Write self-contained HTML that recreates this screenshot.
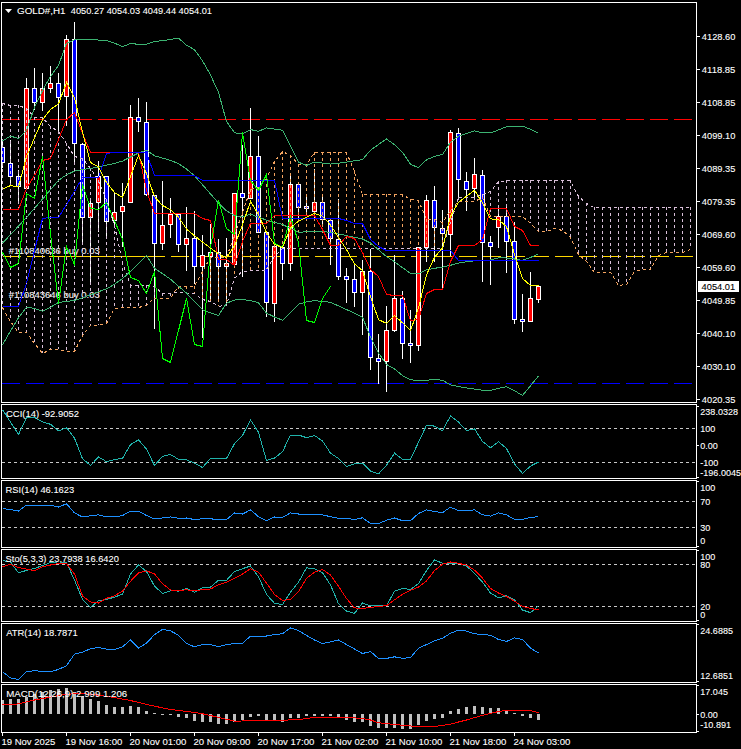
<!DOCTYPE html>
<html><head><meta charset="utf-8"><style>
html,body{margin:0;padding:0;background:#000;width:741px;height:749px;overflow:hidden}
svg{display:block}
text{font-family:"Liberation Sans",sans-serif}
</style></head><body>
<svg width="741" height="749" viewBox="0 0 741 749">
<rect x="0" y="0" width="741" height="749" fill="#000"/>
<defs>
<clipPath id="cm"><rect x="2" y="3" width="694" height="399"/></clipPath>
<clipPath id="c1"><rect x="2" y="405" width="694" height="73"/></clipPath>
<clipPath id="c2"><rect x="2" y="481" width="694" height="66"/></clipPath>
<clipPath id="c3"><rect x="2" y="550" width="694" height="71"/></clipPath>
<clipPath id="c4"><rect x="2" y="624" width="694" height="58"/></clipPath>
<clipPath id="c5"><rect x="2" y="685" width="694" height="47"/></clipPath>
</defs>
<g clip-path="url(#cm)">
<g shape-rendering="crispEdges">
<line x1="2" y1="119.5" x2="696" y2="119.5" stroke="#ff0000" stroke-dasharray="18 6"/>
<line x1="3" y1="256.5" x2="696" y2="256.5" stroke="#ffd700" stroke-dasharray="18 6"/>
<line x1="49" y1="256.5" x2="164" y2="256.5" stroke="#ffd700"/>
<line x1="2" y1="383.5" x2="696" y2="383.5" stroke="#0000ff" stroke-dasharray="18 6"/>
</g>
<text x="8.8" y="254.2" fill="#f4f4f4" font-family="Liberation Sans, sans-serif" font-size="9.7" textLength="91" lengthAdjust="spacingAndGlyphs" stroke="#f4f4f4" stroke-width="0.1">#110840636 buy 0.03</text>
<text x="8.8" y="298.2" fill="#f4f4f4" font-family="Liberation Sans, sans-serif" font-size="9.7" textLength="91" lengthAdjust="spacingAndGlyphs" stroke="#f4f4f4" stroke-width="0.1">#110843646 buy 0.03</text>
<g shape-rendering="crispEdges">
<rect x="2" y="142" width="1" height="26" fill="#fff"/>
<rect x="0" y="147" width="5" height="16" fill="#fff"/>
<rect x="1" y="148" width="3" height="14" fill="#0000ff"/>
<rect x="10" y="140" width="1" height="44" fill="#fff"/>
<rect x="8" y="163" width="5" height="14" fill="#fff"/>
<rect x="9" y="164" width="3" height="12" fill="#0000ff"/>
<rect x="18" y="170" width="1" height="33" fill="#fff"/>
<rect x="16" y="176" width="5" height="11" fill="#fff"/>
<rect x="17" y="177" width="3" height="9" fill="#0000ff"/>
<rect x="26" y="78" width="1" height="111" fill="#fff"/>
<rect x="24" y="88" width="5" height="101" fill="#fff"/>
<rect x="25" y="89" width="3" height="99" fill="#ff0000"/>
<rect x="34" y="68" width="1" height="42" fill="#fff"/>
<rect x="32" y="88" width="5" height="15" fill="#fff"/>
<rect x="33" y="89" width="3" height="13" fill="#0000ff"/>
<rect x="42" y="73" width="1" height="38" fill="#fff"/>
<rect x="40" y="88" width="5" height="15" fill="#fff"/>
<rect x="41" y="89" width="3" height="13" fill="#ff0000"/>
<rect x="50" y="66" width="1" height="27" fill="#fff"/>
<rect x="48" y="83" width="5" height="6" fill="#fff"/>
<rect x="49" y="84" width="3" height="4" fill="#ff0000"/>
<rect x="58" y="73" width="1" height="59" fill="#fff"/>
<rect x="56" y="83" width="5" height="15" fill="#fff"/>
<rect x="57" y="84" width="3" height="13" fill="#0000ff"/>
<rect x="66" y="35" width="1" height="91" fill="#fff"/>
<rect x="64" y="39" width="5" height="58" fill="#fff"/>
<rect x="65" y="40" width="3" height="56" fill="#ff0000"/>
<rect x="74" y="22" width="1" height="141" fill="#fff"/>
<rect x="72" y="39" width="5" height="105" fill="#fff"/>
<rect x="73" y="40" width="3" height="103" fill="#0000ff"/>
<rect x="82" y="143" width="1" height="101" fill="#fff"/>
<rect x="80" y="144" width="5" height="74" fill="#fff"/>
<rect x="81" y="145" width="3" height="72" fill="#0000ff"/>
<rect x="90" y="200" width="1" height="83" fill="#fff"/>
<rect x="88" y="203" width="5" height="15" fill="#fff"/>
<rect x="89" y="204" width="3" height="13" fill="#ff0000"/>
<rect x="98" y="161" width="1" height="71" fill="#fff"/>
<rect x="96" y="176" width="5" height="27" fill="#fff"/>
<rect x="97" y="177" width="3" height="25" fill="#ff0000"/>
<rect x="106" y="176" width="1" height="60" fill="#fff"/>
<rect x="104" y="176" width="5" height="46" fill="#fff"/>
<rect x="105" y="177" width="3" height="44" fill="#0000ff"/>
<rect x="114" y="193" width="1" height="33" fill="#fff"/>
<rect x="112" y="212" width="5" height="9" fill="#fff"/>
<rect x="113" y="213" width="3" height="7" fill="#ff0000"/>
<rect x="122" y="183" width="1" height="64" fill="#fff"/>
<rect x="120" y="206" width="5" height="6" fill="#fff"/>
<rect x="121" y="207" width="3" height="4" fill="#ff0000"/>
<rect x="130" y="105" width="1" height="98" fill="#fff"/>
<rect x="128" y="117" width="5" height="86" fill="#fff"/>
<rect x="129" y="118" width="3" height="84" fill="#ff0000"/>
<rect x="138" y="98" width="1" height="34" fill="#fff"/>
<rect x="136" y="117" width="5" height="5" fill="#fff"/>
<rect x="137" y="118" width="3" height="3" fill="#0000ff"/>
<rect x="146" y="102" width="1" height="94" fill="#fff"/>
<rect x="144" y="122" width="5" height="73" fill="#fff"/>
<rect x="145" y="123" width="3" height="71" fill="#0000ff"/>
<rect x="154" y="195" width="1" height="134" fill="#fff"/>
<rect x="152" y="195" width="5" height="49" fill="#fff"/>
<rect x="153" y="196" width="3" height="47" fill="#0000ff"/>
<rect x="162" y="181" width="1" height="69" fill="#fff"/>
<rect x="160" y="225" width="5" height="19" fill="#fff"/>
<rect x="161" y="226" width="3" height="17" fill="#ff0000"/>
<rect x="170" y="198" width="1" height="40" fill="#fff"/>
<rect x="168" y="214" width="5" height="11" fill="#fff"/>
<rect x="169" y="215" width="3" height="9" fill="#ff0000"/>
<rect x="178" y="214" width="1" height="38" fill="#fff"/>
<rect x="176" y="214" width="5" height="31" fill="#fff"/>
<rect x="177" y="215" width="3" height="29" fill="#0000ff"/>
<rect x="186" y="207" width="1" height="64" fill="#fff"/>
<rect x="184" y="238" width="5" height="7" fill="#fff"/>
<rect x="185" y="239" width="3" height="5" fill="#ff0000"/>
<rect x="194" y="211" width="1" height="73" fill="#fff"/>
<rect x="192" y="238" width="5" height="29" fill="#fff"/>
<rect x="193" y="239" width="3" height="27" fill="#0000ff"/>
<rect x="202" y="235" width="1" height="103" fill="#fff"/>
<rect x="200" y="255" width="5" height="12" fill="#fff"/>
<rect x="201" y="256" width="3" height="10" fill="#ff0000"/>
<rect x="210" y="224" width="1" height="76" fill="#fff"/>
<rect x="208" y="252" width="5" height="5" fill="#fff"/>
<rect x="209" y="253" width="3" height="3" fill="#ff0000"/>
<rect x="218" y="239" width="1" height="61" fill="#fff"/>
<rect x="216" y="252" width="5" height="15" fill="#fff"/>
<rect x="217" y="253" width="3" height="13" fill="#0000ff"/>
<rect x="226" y="238" width="1" height="65" fill="#fff"/>
<rect x="224" y="263" width="5" height="4" fill="#fff"/>
<rect x="225" y="264" width="3" height="2" fill="#ff0000"/>
<rect x="234" y="193" width="1" height="72" fill="#fff"/>
<rect x="232" y="193" width="5" height="72" fill="#fff"/>
<rect x="233" y="194" width="3" height="70" fill="#ff0000"/>
<rect x="242" y="145" width="1" height="132" fill="#fff"/>
<rect x="240" y="193" width="5" height="5" fill="#fff"/>
<rect x="241" y="194" width="3" height="3" fill="#0000ff"/>
<rect x="250" y="108" width="1" height="91" fill="#fff"/>
<rect x="248" y="156" width="5" height="43" fill="#fff"/>
<rect x="249" y="157" width="3" height="41" fill="#ff0000"/>
<rect x="258" y="136" width="1" height="97" fill="#fff"/>
<rect x="256" y="156" width="5" height="77" fill="#fff"/>
<rect x="257" y="157" width="3" height="75" fill="#0000ff"/>
<rect x="266" y="232" width="1" height="85" fill="#fff"/>
<rect x="264" y="232" width="5" height="71" fill="#fff"/>
<rect x="265" y="233" width="3" height="69" fill="#0000ff"/>
<rect x="274" y="246" width="1" height="76" fill="#fff"/>
<rect x="272" y="246" width="5" height="58" fill="#fff"/>
<rect x="273" y="247" width="3" height="56" fill="#ff0000"/>
<rect x="282" y="247" width="1" height="33" fill="#fff"/>
<rect x="280" y="247" width="5" height="17" fill="#fff"/>
<rect x="281" y="248" width="3" height="15" fill="#0000ff"/>
<rect x="290" y="174" width="1" height="97" fill="#fff"/>
<rect x="288" y="184" width="5" height="80" fill="#fff"/>
<rect x="289" y="185" width="3" height="78" fill="#ff0000"/>
<rect x="298" y="184" width="1" height="34" fill="#fff"/>
<rect x="296" y="184" width="5" height="24" fill="#fff"/>
<rect x="297" y="185" width="3" height="22" fill="#0000ff"/>
<rect x="306" y="196" width="1" height="19" fill="#fff"/>
<rect x="304" y="206" width="5" height="3" fill="#fff"/>
<rect x="305" y="207" width="3" height="1" fill="#0000ff"/>
<rect x="314" y="169" width="1" height="50" fill="#fff"/>
<rect x="312" y="202" width="5" height="10" fill="#fff"/>
<rect x="313" y="203" width="3" height="8" fill="#ff0000"/>
<rect x="322" y="196" width="1" height="31" fill="#fff"/>
<rect x="320" y="202" width="5" height="18" fill="#fff"/>
<rect x="321" y="203" width="3" height="16" fill="#0000ff"/>
<rect x="330" y="220" width="1" height="45" fill="#fff"/>
<rect x="328" y="220" width="5" height="19" fill="#fff"/>
<rect x="329" y="221" width="3" height="17" fill="#0000ff"/>
<rect x="338" y="199" width="1" height="81" fill="#fff"/>
<rect x="336" y="239" width="5" height="38" fill="#fff"/>
<rect x="337" y="240" width="3" height="36" fill="#0000ff"/>
<rect x="346" y="268" width="1" height="35" fill="#fff"/>
<rect x="344" y="276" width="5" height="4" fill="#fff"/>
<rect x="345" y="277" width="3" height="2" fill="#0000ff"/>
<rect x="354" y="265" width="1" height="42" fill="#fff"/>
<rect x="352" y="279" width="5" height="14" fill="#fff"/>
<rect x="353" y="280" width="3" height="12" fill="#0000ff"/>
<rect x="362" y="260" width="1" height="75" fill="#fff"/>
<rect x="360" y="271" width="5" height="22" fill="#fff"/>
<rect x="361" y="272" width="3" height="20" fill="#ff0000"/>
<rect x="370" y="249" width="1" height="121" fill="#fff"/>
<rect x="368" y="271" width="5" height="87" fill="#fff"/>
<rect x="369" y="272" width="3" height="85" fill="#0000ff"/>
<rect x="378" y="334" width="1" height="50" fill="#fff"/>
<rect x="376" y="358" width="5" height="4" fill="#fff"/>
<rect x="377" y="359" width="3" height="2" fill="#0000ff"/>
<rect x="386" y="306" width="1" height="86" fill="#fff"/>
<rect x="384" y="330" width="5" height="32" fill="#fff"/>
<rect x="385" y="331" width="3" height="30" fill="#ff0000"/>
<rect x="394" y="255" width="1" height="77" fill="#fff"/>
<rect x="392" y="298" width="5" height="33" fill="#fff"/>
<rect x="393" y="299" width="3" height="31" fill="#ff0000"/>
<rect x="402" y="291" width="1" height="68" fill="#fff"/>
<rect x="400" y="298" width="5" height="46" fill="#fff"/>
<rect x="401" y="299" width="3" height="44" fill="#0000ff"/>
<rect x="410" y="310" width="1" height="53" fill="#fff"/>
<rect x="408" y="343" width="5" height="3" fill="#fff"/>
<rect x="409" y="344" width="3" height="1" fill="#0000ff"/>
<rect x="418" y="247" width="1" height="104" fill="#fff"/>
<rect x="416" y="247" width="5" height="99" fill="#fff"/>
<rect x="417" y="248" width="3" height="97" fill="#ff0000"/>
<rect x="426" y="195" width="1" height="67" fill="#fff"/>
<rect x="424" y="200" width="5" height="48" fill="#fff"/>
<rect x="425" y="201" width="3" height="46" fill="#ff0000"/>
<rect x="434" y="186" width="1" height="76" fill="#fff"/>
<rect x="432" y="200" width="5" height="28" fill="#fff"/>
<rect x="433" y="201" width="3" height="26" fill="#0000ff"/>
<rect x="442" y="210" width="1" height="78" fill="#fff"/>
<rect x="440" y="228" width="5" height="6" fill="#fff"/>
<rect x="441" y="229" width="3" height="4" fill="#0000ff"/>
<rect x="450" y="130" width="1" height="126" fill="#fff"/>
<rect x="448" y="132" width="5" height="103" fill="#fff"/>
<rect x="449" y="133" width="3" height="101" fill="#ff0000"/>
<rect x="458" y="128" width="1" height="72" fill="#fff"/>
<rect x="456" y="133" width="5" height="47" fill="#fff"/>
<rect x="457" y="134" width="3" height="45" fill="#0000ff"/>
<rect x="466" y="172" width="1" height="39" fill="#fff"/>
<rect x="464" y="181" width="5" height="9" fill="#fff"/>
<rect x="465" y="182" width="3" height="7" fill="#0000ff"/>
<rect x="474" y="158" width="1" height="42" fill="#fff"/>
<rect x="472" y="174" width="5" height="15" fill="#fff"/>
<rect x="473" y="175" width="3" height="13" fill="#ff0000"/>
<rect x="482" y="170" width="1" height="112" fill="#fff"/>
<rect x="480" y="175" width="5" height="68" fill="#fff"/>
<rect x="481" y="176" width="3" height="66" fill="#0000ff"/>
<rect x="490" y="236" width="1" height="49" fill="#fff"/>
<rect x="488" y="242" width="5" height="5" fill="#fff"/>
<rect x="489" y="243" width="3" height="3" fill="#0000ff"/>
<rect x="498" y="205" width="1" height="43" fill="#fff"/>
<rect x="496" y="216" width="5" height="12" fill="#fff"/>
<rect x="497" y="217" width="3" height="10" fill="#ff0000"/>
<rect x="506" y="206" width="1" height="67" fill="#fff"/>
<rect x="504" y="216" width="5" height="26" fill="#fff"/>
<rect x="505" y="217" width="3" height="24" fill="#0000ff"/>
<rect x="514" y="222" width="1" height="102" fill="#fff"/>
<rect x="512" y="241" width="5" height="79" fill="#fff"/>
<rect x="513" y="242" width="3" height="77" fill="#0000ff"/>
<rect x="522" y="294" width="1" height="38" fill="#fff"/>
<rect x="520" y="319" width="5" height="3" fill="#fff"/>
<rect x="521" y="320" width="3" height="1" fill="#0000ff"/>
<rect x="530" y="272" width="1" height="50" fill="#fff"/>
<rect x="528" y="298" width="5" height="24" fill="#fff"/>
<rect x="529" y="299" width="3" height="22" fill="#ff0000"/>
<rect x="538" y="286" width="1" height="17" fill="#fff"/>
<rect x="536" y="286" width="5" height="14" fill="#fff"/>
<rect x="537" y="287" width="3" height="12" fill="#ff0000"/>
</g>
<g shape-rendering="crispEdges">
<line x1="2.5" y1="103" x2="2.5" y2="307" stroke="#d8bfd8" stroke-dasharray="3 3"/>
<line x1="10.5" y1="105" x2="10.5" y2="321" stroke="#d8bfd8" stroke-dasharray="3 3"/>
<line x1="18.5" y1="105" x2="18.5" y2="332" stroke="#d8bfd8" stroke-dasharray="3 3"/>
<line x1="26.5" y1="108" x2="26.5" y2="332" stroke="#d8bfd8" stroke-dasharray="3 3"/>
<line x1="34.5" y1="117" x2="34.5" y2="343" stroke="#d8bfd8" stroke-dasharray="3 3"/>
<line x1="42.5" y1="117" x2="42.5" y2="353" stroke="#d8bfd8" stroke-dasharray="3 3"/>
<line x1="50.5" y1="126" x2="50.5" y2="349" stroke="#d8bfd8" stroke-dasharray="3 3"/>
<line x1="58.5" y1="131" x2="58.5" y2="349" stroke="#d8bfd8" stroke-dasharray="3 3"/>
<line x1="66.5" y1="143" x2="66.5" y2="351" stroke="#d8bfd8" stroke-dasharray="3 3"/>
<line x1="74.5" y1="156" x2="74.5" y2="351" stroke="#d8bfd8" stroke-dasharray="3 3"/>
<line x1="82.5" y1="158" x2="82.5" y2="335" stroke="#d8bfd8" stroke-dasharray="3 3"/>
<line x1="90.5" y1="168" x2="90.5" y2="325" stroke="#d8bfd8" stroke-dasharray="3 3"/>
<line x1="98.5" y1="180" x2="98.5" y2="325" stroke="#d8bfd8" stroke-dasharray="3 3"/>
<line x1="106.5" y1="200" x2="106.5" y2="323" stroke="#d8bfd8" stroke-dasharray="3 3"/>
<line x1="114.5" y1="225" x2="114.5" y2="308" stroke="#d8bfd8" stroke-dasharray="3 3"/>
<line x1="122.5" y1="262" x2="122.5" y2="307" stroke="#d8bfd8" stroke-dasharray="3 3"/>
<line x1="130.5" y1="285" x2="130.5" y2="307" stroke="#d8bfd8" stroke-dasharray="3 3"/>
<line x1="138.5" y1="285" x2="138.5" y2="307" stroke="#d8bfd8" stroke-dasharray="3 3"/>
<line x1="146.5" y1="285" x2="146.5" y2="305" stroke="#d8bfd8" stroke-dasharray="3 3"/>
<line x1="154.5" y1="286" x2="154.5" y2="298" stroke="#d8bfd8" stroke-dasharray="3 3"/>
<line x1="162.5" y1="293" x2="162.5" y2="298" stroke="#d8bfd8" stroke-dasharray="3 3"/>
<line x1="170.5" y1="293" x2="170.5" y2="298" stroke="#d8bfd8" stroke-dasharray="3 3"/>
<line x1="178.5" y1="286" x2="178.5" y2="292" stroke="#f4a460" stroke-dasharray="3 3"/>
<line x1="186.5" y1="286" x2="186.5" y2="292" stroke="#f4a460" stroke-dasharray="3 3"/>
<line x1="194.5" y1="286" x2="194.5" y2="293" stroke="#f4a460" stroke-dasharray="3 3"/>
<line x1="202.5" y1="271" x2="202.5" y2="299" stroke="#f4a460" stroke-dasharray="3 3"/>
<line x1="210.5" y1="257" x2="210.5" y2="301" stroke="#f4a460" stroke-dasharray="3 3"/>
<line x1="218.5" y1="257" x2="218.5" y2="306" stroke="#f4a460" stroke-dasharray="3 3"/>
<line x1="226.5" y1="257" x2="226.5" y2="305" stroke="#f4a460" stroke-dasharray="3 3"/>
<line x1="234.5" y1="235" x2="234.5" y2="278" stroke="#f4a460" stroke-dasharray="3 3"/>
<line x1="242.5" y1="212" x2="242.5" y2="271" stroke="#f4a460" stroke-dasharray="3 3"/>
<line x1="250.5" y1="189" x2="250.5" y2="270" stroke="#f4a460" stroke-dasharray="3 3"/>
<line x1="258.5" y1="187" x2="258.5" y2="270" stroke="#f4a460" stroke-dasharray="3 3"/>
<line x1="266.5" y1="178" x2="266.5" y2="269" stroke="#f4a460" stroke-dasharray="3 3"/>
<line x1="274.5" y1="161" x2="274.5" y2="256" stroke="#f4a460" stroke-dasharray="3 3"/>
<line x1="282.5" y1="151" x2="282.5" y2="248" stroke="#f4a460" stroke-dasharray="3 3"/>
<line x1="290.5" y1="155" x2="290.5" y2="248" stroke="#f4a460" stroke-dasharray="3 3"/>
<line x1="298.5" y1="164" x2="298.5" y2="248" stroke="#f4a460" stroke-dasharray="3 3"/>
<line x1="306.5" y1="164" x2="306.5" y2="248" stroke="#f4a460" stroke-dasharray="3 3"/>
<line x1="314.5" y1="152" x2="314.5" y2="248" stroke="#f4a460" stroke-dasharray="3 3"/>
<line x1="322.5" y1="152" x2="322.5" y2="248" stroke="#f4a460" stroke-dasharray="3 3"/>
<line x1="330.5" y1="152" x2="330.5" y2="248" stroke="#f4a460" stroke-dasharray="3 3"/>
<line x1="338.5" y1="152" x2="338.5" y2="248" stroke="#f4a460" stroke-dasharray="3 3"/>
<line x1="346.5" y1="152" x2="346.5" y2="248" stroke="#f4a460" stroke-dasharray="3 3"/>
<line x1="354.5" y1="171" x2="354.5" y2="248" stroke="#f4a460" stroke-dasharray="3 3"/>
<line x1="362.5" y1="194" x2="362.5" y2="248" stroke="#f4a460" stroke-dasharray="3 3"/>
<line x1="370.5" y1="194" x2="370.5" y2="248" stroke="#f4a460" stroke-dasharray="3 3"/>
<line x1="378.5" y1="194" x2="378.5" y2="248" stroke="#f4a460" stroke-dasharray="3 3"/>
<line x1="386.5" y1="194" x2="386.5" y2="248" stroke="#f4a460" stroke-dasharray="3 3"/>
<line x1="394.5" y1="194" x2="394.5" y2="248" stroke="#f4a460" stroke-dasharray="3 3"/>
<line x1="402.5" y1="194" x2="402.5" y2="248" stroke="#f4a460" stroke-dasharray="3 3"/>
<line x1="410.5" y1="199" x2="410.5" y2="248" stroke="#f4a460" stroke-dasharray="3 3"/>
<line x1="418.5" y1="200" x2="418.5" y2="248" stroke="#f4a460" stroke-dasharray="3 3"/>
<line x1="426.5" y1="219" x2="426.5" y2="248" stroke="#f4a460" stroke-dasharray="3 3"/>
<line x1="434.5" y1="219" x2="434.5" y2="248" stroke="#f4a460" stroke-dasharray="3 3"/>
<line x1="442.5" y1="222" x2="442.5" y2="248" stroke="#f4a460" stroke-dasharray="3 3"/>
<line x1="450.5" y1="210" x2="450.5" y2="222" stroke="#f4a460" stroke-dasharray="3 3"/>
<line x1="458.5" y1="197" x2="458.5" y2="201" stroke="#d8bfd8" stroke-dasharray="3 3"/>
<line x1="466.5" y1="197" x2="466.5" y2="201" stroke="#d8bfd8" stroke-dasharray="3 3"/>
<line x1="474.5" y1="197" x2="474.5" y2="201" stroke="#d8bfd8" stroke-dasharray="3 3"/>
<line x1="482.5" y1="194" x2="482.5" y2="197" stroke="#d8bfd8" stroke-dasharray="3 3"/>
<line x1="490.5" y1="191" x2="490.5" y2="216" stroke="#d8bfd8" stroke-dasharray="3 3"/>
<line x1="498.5" y1="181" x2="498.5" y2="216" stroke="#d8bfd8" stroke-dasharray="3 3"/>
<line x1="506.5" y1="180" x2="506.5" y2="216" stroke="#d8bfd8" stroke-dasharray="3 3"/>
<line x1="514.5" y1="180" x2="514.5" y2="216" stroke="#d8bfd8" stroke-dasharray="3 3"/>
<line x1="522.5" y1="180" x2="522.5" y2="216" stroke="#d8bfd8" stroke-dasharray="3 3"/>
<line x1="530.5" y1="180" x2="530.5" y2="223" stroke="#d8bfd8" stroke-dasharray="3 3"/>
<line x1="538.5" y1="180" x2="538.5" y2="231" stroke="#d8bfd8" stroke-dasharray="3 3"/>
<line x1="546.5" y1="180" x2="546.5" y2="231" stroke="#d8bfd8" stroke-dasharray="3 3"/>
<line x1="554.5" y1="180" x2="554.5" y2="228" stroke="#d8bfd8" stroke-dasharray="3 3"/>
<line x1="562.5" y1="180" x2="562.5" y2="230" stroke="#d8bfd8" stroke-dasharray="3 3"/>
<line x1="570.5" y1="180" x2="570.5" y2="237" stroke="#d8bfd8" stroke-dasharray="3 3"/>
<line x1="578.5" y1="196" x2="578.5" y2="254" stroke="#d8bfd8" stroke-dasharray="3 3"/>
<line x1="586.5" y1="203" x2="586.5" y2="261" stroke="#d8bfd8" stroke-dasharray="3 3"/>
<line x1="594.5" y1="207" x2="594.5" y2="272" stroke="#d8bfd8" stroke-dasharray="3 3"/>
<line x1="602.5" y1="207" x2="602.5" y2="272" stroke="#d8bfd8" stroke-dasharray="3 3"/>
<line x1="610.5" y1="207" x2="610.5" y2="272" stroke="#d8bfd8" stroke-dasharray="3 3"/>
<line x1="618.5" y1="207" x2="618.5" y2="285" stroke="#d8bfd8" stroke-dasharray="3 3"/>
<line x1="626.5" y1="207" x2="626.5" y2="284" stroke="#d8bfd8" stroke-dasharray="3 3"/>
<line x1="634.5" y1="207" x2="634.5" y2="271" stroke="#d8bfd8" stroke-dasharray="3 3"/>
<line x1="642.5" y1="207" x2="642.5" y2="269" stroke="#d8bfd8" stroke-dasharray="3 3"/>
<line x1="650.5" y1="207" x2="650.5" y2="269" stroke="#d8bfd8" stroke-dasharray="3 3"/>
<line x1="658.5" y1="207" x2="658.5" y2="255" stroke="#d8bfd8" stroke-dasharray="3 3"/>
<line x1="666.5" y1="207" x2="666.5" y2="252" stroke="#d8bfd8" stroke-dasharray="3 3"/>
<line x1="674.5" y1="207" x2="674.5" y2="252" stroke="#d8bfd8" stroke-dasharray="3 3"/>
<line x1="682.5" y1="207" x2="682.5" y2="252" stroke="#d8bfd8" stroke-dasharray="3 3"/>
<line x1="690.5" y1="207" x2="690.5" y2="249" stroke="#d8bfd8" stroke-dasharray="3 3"/>
</g>
<polyline points="2.5,307.5 10.5,321.5 18.5,332.5 26.5,332.5 34.5,343.5 42.5,353.5 50.5,349.5 58.5,349.5 66.5,351.5 74.5,351.5 82.5,335.5 90.5,325.5 98.5,325.5 106.5,323.5 114.5,308.5 122.5,307.5 130.5,307.5 138.5,307.5 146.5,305.5 154.5,298 162.5,298 170.5,298 178.5,286.1 186.5,286.1 194.5,286.1 202.5,271.5 210.5,257.5 218.5,257.5 226.5,257.5 234.5,235.5 242.5,212.5 250.5,189.5 258.5,187.5 266.5,178.5 274.5,161.5 282.5,151.5 290.5,155.5 298.5,164.5 306.5,164.5 314.5,152.5 322.5,152.5 330.5,152.5 338.5,152.5 346.5,152.5 354.5,171.5 362.5,194.5 370.5,194.5 378.5,194.5 386.5,194.5 394.5,194.5 402.5,194.5 410.5,199.5 418.5,200.5 426.5,219.5 434.5,219.5 442.5,222.5 450.5,210.5 458.5,201.5 466.5,201.5 474.5,201.5 482.5,197.5 490.5,216.5 498.5,216.5 506.5,216.5 514.5,216.5 522.5,216.5 530.5,223.5 538.5,231.5 546.5,231.5 554.5,228.5 562.5,230.5 570.5,237.5 578.5,254.5 586.5,261.5 594.5,272.5 602.5,272.5 610.5,272.5 618.5,285.5 626.5,284.5 634.5,271.5 642.5,269.5 650.5,269.5 658.5,255.5 666.5,252.5 674.5,252.5 682.5,252.5 690.5,249.5" fill="none" stroke="#f4a460" stroke-width="1" shape-rendering="crispEdges" stroke-dasharray="3 3"/>
<polyline points="2.5,103.5 10.5,105.5 18.5,105.5 26.5,108.5 34.5,117.5 42.5,117.5 50.5,126.5 58.5,131.5 66.5,143.5 74.5,156.5 82.5,158.5 90.5,168.5 98.5,180.5 106.5,200.5 114.5,225.5 122.5,262.5 130.5,285.5 138.5,285.5 146.5,285.5 154.5,286.5 162.5,293.5 170.5,293.5 178.5,292.5 186.5,293 194.5,293.5 202.5,299.5 210.5,301.5 218.5,306.2 226.5,305.5 234.5,278 242.5,271.5 250.5,271 258.5,270.5 266.5,269.9 274.5,256.5 282.5,248.5 290.5,248.5 298.5,248.5 306.5,248.5 314.5,248.5 322.5,248.5 330.5,248.5 338.5,248.5 346.5,248.5 354.5,248.5 362.5,248.5 370.5,248.5 378.5,248.5 386.5,248.5 394.5,248.5 402.5,248.5 410.5,248.5 418.5,248.5 426.5,248.5 434.5,248.5 442.5,248.5 450.5,222.5 458.5,197.5 466.5,197.5 474.5,197.5 482.5,194.5 490.5,191.5 498.5,181.5 506.5,180.9 514.5,180.9 522.5,180.9 530.5,180.9 538.5,180.9 546.5,180.9 554.5,180.9 562.5,180.9 570.5,180.9 578.5,196.5 586.5,203.5 594.5,207.9 602.5,207.9 610.5,207.9 618.5,207.9 626.5,207.9 634.5,207.9 642.5,207.9 650.5,207.9 658.5,207.9 666.5,207.9 674.5,207.9 682.5,207.9 690.5,207.9" fill="none" stroke="#d8bfd8" stroke-width="1" shape-rendering="crispEdges" stroke-dasharray="3 3"/>
<polyline points="2.5,140.9 10.5,136.1 18.5,138.5 26.5,130.5 34.5,107.39 42.5,90.5 50.5,76.41 58.5,65.5 66.5,43.23 74.5,39.88 82.5,39.59 90.5,39.58 98.5,40.06 106.5,40.54 114.5,43.12 122.5,46.7 130.5,43.58 138.5,44.25 146.5,44.1 154.5,41.65 162.5,40.61 170.5,39.53 178.5,38.04 186.5,45.26 194.5,49.69 202.5,60.8 210.5,75 218.5,92.42 226.5,121.48 234.5,132.72 242.5,133.9 250.5,129.57 258.5,131.3 266.5,127.9 274.5,129.05 282.5,130.2 290.5,146.2 298.5,162.2 306.5,165.41 314.5,162.04 322.5,163.07 330.5,164.1 338.5,163.2 346.5,162.08 354.5,160.84 362.5,159.58 370.5,150.2 378.5,144.51 386.5,138.97 394.5,144.76 402.5,152.21 410.5,164.33 418.5,167.73 426.5,159.82 434.5,156.33 442.5,154.5 450.5,142.37 458.5,136.33 466.5,133.53 474.5,130.87 482.5,132.9 490.5,132.9 498.5,129.95 506.5,126.79 514.5,126.42 522.5,126.05 530.5,129.36 538.5,133.2" fill="none" stroke="#3cb371" stroke-width="1" shape-rendering="crispEdges" />
<polyline points="2.5,243.18 10.5,234.62 18.5,226.06 26.5,217.5 34.5,208.31 42.5,199.12 50.5,189.67 58.5,180.29 66.5,174.87 74.5,171.12 82.5,169.41 90.5,168.44 98.5,166.85 106.5,165.07 114.5,163.38 122.5,161.09 130.5,157.03 138.5,153.03 146.5,150.12 154.5,155.78 162.5,158.03 170.5,160.34 178.5,163.67 186.5,169.05 194.5,175.73 202.5,184.76 210.5,193.92 218.5,203.06 226.5,210.89 234.5,215.59 242.5,216.96 250.5,214.2 258.5,217.16 266.5,220.11 274.5,222.44 282.5,224.5 290.5,228.42 298.5,232.29 306.5,231.78 314.5,231.26 322.5,231.69 330.5,232.24 338.5,233.87 346.5,235.61 354.5,237.3 362.5,238.99 370.5,243 378.5,249.79 386.5,256.56 394.5,261.66 402.5,267.63 410.5,273.55 418.5,273.86 426.5,269.88 434.5,268.28 442.5,267.19 450.5,265.28 458.5,263.15 466.5,261.76 474.5,260.87 482.5,260.45 490.5,260.02 498.5,257.86 506.5,258.03 514.5,259 522.5,260.4 530.5,257.46 538.5,253.8" fill="none" stroke="#3cb371" stroke-width="1" shape-rendering="crispEdges" />
<polyline points="2.5,344.88 10.5,330.95 18.5,317.81 26.5,307.04 34.5,308.55 42.5,311.23 50.5,307.23 58.5,302.48 66.5,301.32 74.5,300.57 82.5,297.81 90.5,294.79 98.5,291.77 106.5,288.86 114.5,284.19 122.5,278.66 130.5,271.3 138.5,263.3 146.5,255.3 154.5,268.43 162.5,273.67 170.5,279.22 178.5,286.19 186.5,293.15 194.5,301.43 202.5,309.77 210.5,312.87 218.5,315.47 226.5,303.2 234.5,300.02 242.5,299.61 250.5,300.5 258.5,302.77 266.5,313.1 274.5,316.97 282.5,320.22 290.5,312.75 298.5,304.25 306.5,301.82 314.5,300.67 322.5,301.36 330.5,302.23 338.5,305.89 346.5,309.54 354.5,313.12 362.5,317.25 370.5,337.1 378.5,353 386.5,364.4 394.5,368.9 402.5,375.61 410.5,379.87 418.5,380.3 426.5,380.19 434.5,379.58 442.5,380.16 450.5,384.92 458.5,386.54 466.5,387.88 474.5,389.08 482.5,390.28 490.5,390.5 498.5,388.45 506.5,386.61 514.5,390.7 522.5,395.5 530.5,385.75 538.5,376" fill="none" stroke="#3cb371" stroke-width="1" shape-rendering="crispEdges" />
<polyline points="2.5,209.5 10.5,209.5 18.5,209.5 26.5,188.5 34.5,175.5 42.5,160.5 50.5,158.5 58.5,139.5 66.5,119.5 74.5,112.5 82.5,133.5 90.5,152.5 98.5,152.5 106.5,152.5 114.5,152.5 122.5,152.5 130.5,152.5 138.5,152.5 146.5,190.5 154.5,213.5 162.5,213.5 170.5,213.5 178.5,213.5 186.5,213.5 194.5,213.5 202.5,218.5 210.5,220.5 218.5,259.5 226.5,259.5 234.5,265.5 242.5,241.5 250.5,223.5 258.5,223.5 266.5,223.5 274.5,215.5 282.5,215.5 290.5,215.5 298.5,215.5 306.5,215.5 314.5,215.5 322.5,229.5 330.5,245.5 338.5,245.5 346.5,236.5 354.5,238.5 362.5,252.5 370.5,269.5 378.5,276.5 386.5,294.5 394.5,295.5 402.5,295.5 410.5,320.5 418.5,319.5 426.5,293.5 434.5,289.5 442.5,289.5 450.5,261.5 458.5,245.5 466.5,245.5 474.5,245.5 482.5,239.5 490.5,208.5 498.5,208.5 506.5,208.5 514.5,226.5 522.5,230.5 530.5,245.5 538.5,245.5" fill="none" stroke="#ff0000" stroke-width="1" shape-rendering="crispEdges" />
<polyline points="2.5,306.5 10.5,306.5 18.5,306.5 26.5,283.5 34.5,250.5 42.5,218.5 50.5,217.5 58.5,217.5 66.5,204.5 74.5,191.5 82.5,177.5 90.5,177.5 98.5,177.5 106.5,153.5 114.5,152.5 122.5,152.5 130.5,152.5 138.5,152.5 146.5,152.5 154.5,175.5 162.5,175.5 170.5,175.5 178.5,175.5 186.5,175.5 194.5,175.5 202.5,180.5 210.5,180.5 218.5,180.5 226.5,180.5 234.5,180.5 242.5,180.5 250.5,180.5 258.5,180.5 266.5,180.5 274.5,180.5 282.5,218.5 290.5,218.5 298.5,218.5 306.5,218.5 314.5,218.5 322.5,218.5 330.5,218.5 338.5,218.5 346.5,220.5 354.5,223.5 362.5,223.5 370.5,239.5 378.5,246.5 386.5,250.5 394.5,250.5 402.5,250.5 410.5,250.5 418.5,250.5 426.5,250.5 434.5,250.5 442.5,250.5 450.5,250.5 458.5,260.5 466.5,260.5 474.5,260.5 482.5,260.5 490.5,260.5 498.5,260.5 506.5,260.5 514.5,260.5 522.5,260.5 530.5,260.5 538.5,260.5" fill="none" stroke="#0000ff" stroke-width="1" shape-rendering="crispEdges" />
<polyline points="2.5,252.5 10.5,267.5 18.5,263.5 26.5,193.5 34.5,198.5 42.5,156.5 50.5,233.5 58.5,303.5 66.5,246.5 74.5,264.5 82.5,184.5 90.5,208.5 98.5,209.5 106.5,202.5 114.5,220.5 122.5,239.5 130.5,277.5 138.5,280.5 146.5,293.5 154.5,271.5 162.5,358.5 170.5,362.5 178.5,330.5 186.5,298.5 194.5,344.5 202.5,346.5 210.5,247.5 218.5,200.5 226.5,228.5 234.5,234.5 242.5,132.5 250.5,180.5 258.5,190.5 266.5,174.5 274.5,243.5 282.5,247.5 290.5,216.5 298.5,242.5 306.5,320.5 314.5,322.5 322.5,298.5 330.5,286.5" fill="none" stroke="#00ff00" stroke-width="1" shape-rendering="crispEdges" />
<polyline points="2.5,189.36 10.5,185.49 18.5,186.96 26.5,156.5 34.5,137.83 42.5,119.63 50.5,109.5 58.5,103.81 66.5,82.5 74.5,97.61 82.5,132.5 90.5,162.5 98.5,166.94 106.5,182.47 114.5,192.5 122.5,197.5 130.5,176.5 138.5,155.55 146.5,173.67 154.5,196.73 162.5,205.5 170.5,209.63 178.5,217.1 186.5,229.01 194.5,235.82 202.5,241.9 210.5,248.18 218.5,253.79 226.5,257.9 234.5,245.9 242.5,224.73 250.5,201.3 258.5,214.46 266.5,232.5 274.5,244.5 282.5,247.5 290.5,227.94 298.5,221.14 306.5,217.17 314.5,213.36 322.5,216.28 330.5,224.87 338.5,237.41 346.5,249.5 354.5,264.01 362.5,270.5 370.5,296.71 378.5,319.59 386.5,323.4 394.5,315.68 402.5,322.71 410.5,330.69 418.5,308.06 426.5,274.73 434.5,257.34 442.5,247.79 450.5,216.29 458.5,202.18 466.5,196.18 474.5,190.2 482.5,202.9 490.5,218.9 498.5,219.5 506.5,226.72 514.5,254.3 522.5,278.37 530.5,285.64 538.5,286" fill="none" stroke="#ffff00" stroke-width="1" shape-rendering="crispEdges" />
</g>
<g fill="none" stroke="#fff" stroke-width="1" shape-rendering="crispEdges">
<rect x="1.5" y="2.5" width="695" height="400"/>
<rect x="1.5" y="404.5" width="695" height="74"/>
<rect x="1.5" y="480.5" width="695" height="67"/>
<rect x="1.5" y="549.5" width="695" height="72"/>
<rect x="1.5" y="623.5" width="695" height="59"/>
<rect x="1.5" y="684.5" width="695" height="48"/>
</g>
<polygon points="5,9 12,9 8.5,13" fill="#fff"/>
<text x="17" y="14" fill="#fff" font-family="Liberation Sans, sans-serif" font-size="9.7" textLength="48.5" lengthAdjust="spacingAndGlyphs" stroke="#fff" stroke-width="0.1">GOLD#,H1</text>
<text x="70.8" y="14" fill="#fff" font-family="Liberation Sans, sans-serif" font-size="9.7" textLength="141.2" lengthAdjust="spacingAndGlyphs" stroke="#fff" stroke-width="0.1">4050.27 4054.03 4049.44 4054.01</text>
<g shape-rendering="crispEdges" stroke="#fff">
<line x1="697" y1="36.5" x2="700" y2="36.5"/>
<line x1="697" y1="69.5" x2="700" y2="69.5"/>
<line x1="697" y1="102.5" x2="700" y2="102.5"/>
<line x1="697" y1="135.5" x2="700" y2="135.5"/>
<line x1="697" y1="168.5" x2="700" y2="168.5"/>
<line x1="697" y1="201.5" x2="700" y2="201.5"/>
<line x1="697" y1="234.5" x2="700" y2="234.5"/>
<line x1="697" y1="267.5" x2="700" y2="267.5"/>
<line x1="697" y1="300.5" x2="700" y2="300.5"/>
<line x1="697" y1="333.5" x2="700" y2="333.5"/>
<line x1="697" y1="366.5" x2="700" y2="366.5"/>
<line x1="697" y1="399.5" x2="700" y2="399.5"/>
</g>
<text x="701.8" y="39.8" fill="#fff" font-family="Liberation Sans, sans-serif" font-size="9.7" textLength="33.6" lengthAdjust="spacingAndGlyphs" stroke="#fff" stroke-width="0.1">4128.60</text>
<text x="701.8" y="72.8" fill="#fff" font-family="Liberation Sans, sans-serif" font-size="9.7" textLength="33.6" lengthAdjust="spacingAndGlyphs" stroke="#fff" stroke-width="0.1">4118.85</text>
<text x="701.8" y="105.8" fill="#fff" font-family="Liberation Sans, sans-serif" font-size="9.7" textLength="33.6" lengthAdjust="spacingAndGlyphs" stroke="#fff" stroke-width="0.1">4108.85</text>
<text x="701.8" y="138.8" fill="#fff" font-family="Liberation Sans, sans-serif" font-size="9.7" textLength="33.6" lengthAdjust="spacingAndGlyphs" stroke="#fff" stroke-width="0.1">4099.10</text>
<text x="701.8" y="171.8" fill="#fff" font-family="Liberation Sans, sans-serif" font-size="9.7" textLength="33.6" lengthAdjust="spacingAndGlyphs" stroke="#fff" stroke-width="0.1">4089.35</text>
<text x="701.8" y="204.8" fill="#fff" font-family="Liberation Sans, sans-serif" font-size="9.7" textLength="33.6" lengthAdjust="spacingAndGlyphs" stroke="#fff" stroke-width="0.1">4079.35</text>
<text x="701.8" y="237.8" fill="#fff" font-family="Liberation Sans, sans-serif" font-size="9.7" textLength="33.6" lengthAdjust="spacingAndGlyphs" stroke="#fff" stroke-width="0.1">4069.60</text>
<text x="701.8" y="270.8" fill="#fff" font-family="Liberation Sans, sans-serif" font-size="9.7" textLength="33.6" lengthAdjust="spacingAndGlyphs" stroke="#fff" stroke-width="0.1">4059.60</text>
<text x="701.8" y="303.8" fill="#fff" font-family="Liberation Sans, sans-serif" font-size="9.7" textLength="33.6" lengthAdjust="spacingAndGlyphs" stroke="#fff" stroke-width="0.1">4049.85</text>
<text x="701.8" y="336.8" fill="#fff" font-family="Liberation Sans, sans-serif" font-size="9.7" textLength="33.6" lengthAdjust="spacingAndGlyphs" stroke="#fff" stroke-width="0.1">4040.10</text>
<text x="701.8" y="369.8" fill="#fff" font-family="Liberation Sans, sans-serif" font-size="9.7" textLength="33.6" lengthAdjust="spacingAndGlyphs" stroke="#fff" stroke-width="0.1">4030.10</text>
<text x="701.8" y="402.8" fill="#fff" font-family="Liberation Sans, sans-serif" font-size="9.7" textLength="33.6" lengthAdjust="spacingAndGlyphs" stroke="#fff" stroke-width="0.1">4020.35</text>
<rect x="698" y="281" width="41" height="11" fill="#fff"/>
<text x="701.6" y="290.2" fill="#000" font-family="Liberation Sans, sans-serif" font-size="9.7" textLength="33.6" lengthAdjust="spacingAndGlyphs" stroke="#000" stroke-width="0.1">4054.01</text>
<g clip-path="url(#c1)">
<g shape-rendering="crispEdges" stroke="#c8c8c8" stroke-dasharray="3 3">
<line x1="2" y1="428.5" x2="696" y2="428.5"/>
<line x1="2" y1="462.5" x2="696" y2="462.5"/>
</g>
<polyline points="2.5,409.7 10.5,422 18.5,434.5 26.5,417.5 34.5,417.5 42.5,421.9 50.5,424.3 58.5,430.9 66.5,427.7 74.5,438.1 82.5,458.8 90.5,465.5 98.5,456.9 106.5,461.7 114.5,459.5 122.5,458.3 130.5,444.7 138.5,439.8 146.5,449.1 154.5,465.5 162.5,456.4 170.5,454.5 178.5,459.3 186.5,459.9 194.5,463.1 202.5,467.5 210.5,458.5 218.5,458.5 226.5,458.5 234.5,443.7 242.5,435.5 250.5,419.9 258.5,432.3 266.5,460.5 274.5,458 282.5,451.8 290.5,435 298.5,435 306.5,437.7 314.5,435.5 322.5,441 330.5,453.1 338.5,458.5 346.5,466.5 354.5,463.9 362.5,463.1 370.5,471.2 378.5,473.9 386.5,465.3 394.5,453.1 402.5,459.3 410.5,459.3 418.5,442.3 426.5,425.3 434.5,426.1 442.5,430.7 450.5,415.9 458.5,422.1 466.5,430.7 474.5,428.8 482.5,441.5 490.5,447.7 498.5,441.8 506.5,448.5 514.5,463.9 522.5,473.4 530.5,466.1 538.5,462" fill="none" stroke="#20b2aa" stroke-width="1" shape-rendering="crispEdges" />
</g>
<g clip-path="url(#c2)">
<g shape-rendering="crispEdges" stroke="#c8c8c8" stroke-dasharray="3 3">
<line x1="2" y1="501.5" x2="696" y2="501.5"/>
<line x1="2" y1="527.5" x2="696" y2="527.5"/>
</g>
<polyline points="2.5,508.7 10.5,509.5 18.5,511.1 26.5,505.1 34.5,505.8 42.5,505.8 50.5,505.1 58.5,507 66.5,503.8 74.5,512.9 82.5,517 90.5,515.7 98.5,514.9 106.5,516.7 114.5,517 122.5,515.5 130.5,511.1 138.5,511.1 146.5,515.5 154.5,518.9 162.5,517.9 170.5,517 178.5,518.3 186.5,518 194.5,519.6 202.5,518.8 210.5,518.8 218.5,519.6 226.5,519.6 234.5,512.9 242.5,514 250.5,509.9 258.5,516.7 266.5,520.7 274.5,517 282.5,517.5 290.5,512.9 298.5,514 306.5,514 314.5,514 322.5,514.8 330.5,516.7 338.5,518.3 346.5,518.3 354.5,519.6 362.5,517.8 370.5,523.5 378.5,523.7 386.5,520.2 394.5,518 402.5,520.7 410.5,520.7 418.5,513.5 426.5,509.9 434.5,511.5 442.5,512.6 450.5,507.2 458.5,510.7 466.5,510.7 474.5,509.9 482.5,514.8 490.5,516.1 498.5,512.9 506.5,514.8 514.5,519.4 522.5,519.4 530.5,517.5 538.5,516.7" fill="none" stroke="#1e90ff" stroke-width="1" shape-rendering="crispEdges" />
</g>
<g clip-path="url(#c3)">
<g shape-rendering="crispEdges" stroke="#c8c8c8" stroke-dasharray="3 3">
<line x1="2" y1="564.5" x2="696" y2="564.5"/>
<line x1="2" y1="606.5" x2="696" y2="606.5"/>
</g>
<polyline points="2.5,560.6 10.5,561.9 18.5,572.8 26.5,570.4 34.5,568.5 42.5,565.5 50.5,562.6 58.5,563.1 66.5,562.6 74.5,580.1 82.5,599.5 90.5,607.5 98.5,600.7 106.5,599.5 114.5,597.1 122.5,594.2 130.5,574 138.5,565 146.5,571.5 154.5,586.1 162.5,593.5 170.5,590.7 178.5,591.1 186.5,588.5 194.5,592.2 202.5,587.6 210.5,587.1 218.5,580.3 226.5,580.3 234.5,571.5 242.5,568.7 250.5,566 258.5,576.8 266.5,594.4 274.5,603.3 282.5,604.6 290.5,592.2 298.5,582.2 306.5,567.9 314.5,568.7 322.5,572.8 330.5,584.9 338.5,603.8 346.5,611.1 354.5,613.3 362.5,603 370.5,605.9 378.5,605.7 386.5,606 394.5,591.1 402.5,588.5 410.5,589.5 418.5,583.5 426.5,570.6 434.5,559.8 442.5,563.3 450.5,563.3 458.5,563.3 466.5,566 474.5,573.3 482.5,582.2 490.5,593 498.5,597.9 506.5,595.7 514.5,599.8 522.5,610 530.5,612.7 538.5,605.7" fill="none" stroke="#20b2aa" stroke-width="1" shape-rendering="crispEdges" />
<polyline points="2.5,566.7 10.5,564.3 18.5,567.5 26.5,569.1 34.5,570.8 42.5,566.7 50.5,565 58.5,563.5 66.5,563.5 74.5,574 82.5,595.9 90.5,601.9 98.5,603.1 106.5,598.3 114.5,595.9 122.5,591 130.5,581.3 138.5,572.8 146.5,570.8 154.5,574 162.5,583.7 170.5,590 178.5,590.5 186.5,589.8 194.5,590.9 202.5,589.5 210.5,589 218.5,584.9 226.5,582.2 234.5,578.2 242.5,574.1 250.5,568.7 258.5,572.3 266.5,583 274.5,594.4 282.5,600.6 290.5,599.2 298.5,591.7 306.5,578.2 314.5,572.3 322.5,569.5 330.5,575 338.5,586.3 346.5,598.5 354.5,607.9 362.5,608.4 370.5,607.5 378.5,606.5 386.5,605.7 394.5,599.8 402.5,594.4 410.5,590.3 418.5,587.1 426.5,580.9 434.5,570.6 442.5,564.2 450.5,562 458.5,563.3 466.5,565.2 474.5,570.1 482.5,578.2 490.5,588.5 498.5,593 506.5,596.5 514.5,601.1 522.5,606.5 530.5,608.4 538.5,610" fill="none" stroke="#ff0000" stroke-width="1" shape-rendering="crispEdges" />
</g>
<g clip-path="url(#c4)">
<polyline points="2.5,671.8 10.5,677.9 18.5,679.6 26.5,671.8 34.5,670.6 42.5,671.6 50.5,671.8 58.5,669.4 66.5,665.7 74.5,654.1 82.5,652.1 90.5,648.7 98.5,647.5 106.5,649.2 114.5,649.7 122.5,646.8 130.5,640 138.5,648 146.5,643.1 154.5,634.6 162.5,629.3 170.5,630.8 178.5,635.3 186.5,643.5 194.5,646.8 202.5,644.6 210.5,644.6 218.5,646.8 226.5,644.6 234.5,643.5 242.5,643.5 250.5,636 258.5,636 266.5,636 274.5,634.6 282.5,633.8 290.5,627.9 298.5,630.6 306.5,635.5 314.5,640 322.5,643.5 330.5,641.9 338.5,640 346.5,644.6 354.5,649 362.5,653.5 370.5,651.6 378.5,658.4 386.5,658.4 394.5,656.8 402.5,658.4 410.5,657.6 418.5,648.1 426.5,644.6 434.5,640.9 442.5,638.2 450.5,633.3 458.5,630.1 466.5,631.1 474.5,633.8 482.5,634.6 490.5,635.2 498.5,639.5 506.5,641.4 514.5,637.9 522.5,639.5 530.5,648.1 538.5,653" fill="none" stroke="#1e90ff" stroke-width="1" shape-rendering="crispEdges" />
</g>
<g clip-path="url(#c5)" shape-rendering="crispEdges">
<rect x="1" y="700" width="3" height="14" fill="#c0c0c0"/>
<rect x="9" y="699" width="3" height="15" fill="#c0c0c0"/>
<rect x="17" y="699" width="3" height="15" fill="#c0c0c0"/>
<rect x="25" y="697" width="3" height="17" fill="#c0c0c0"/>
<rect x="33" y="694" width="3" height="20" fill="#c0c0c0"/>
<rect x="41" y="692" width="3" height="22" fill="#c0c0c0"/>
<rect x="49" y="690" width="3" height="24" fill="#c0c0c0"/>
<rect x="57" y="689" width="3" height="25" fill="#c0c0c0"/>
<rect x="65" y="688" width="3" height="26" fill="#c0c0c0"/>
<rect x="73" y="692" width="3" height="22" fill="#c0c0c0"/>
<rect x="81" y="696" width="3" height="18" fill="#c0c0c0"/>
<rect x="89" y="699" width="3" height="15" fill="#c0c0c0"/>
<rect x="97" y="701" width="3" height="13" fill="#c0c0c0"/>
<rect x="105" y="705" width="3" height="9" fill="#c0c0c0"/>
<rect x="113" y="707" width="3" height="7" fill="#c0c0c0"/>
<rect x="121" y="707" width="3" height="7" fill="#c0c0c0"/>
<rect x="129" y="706" width="3" height="8" fill="#c0c0c0"/>
<rect x="137" y="707" width="3" height="7" fill="#c0c0c0"/>
<rect x="145" y="711" width="3" height="3" fill="#c0c0c0"/>
<rect x="153" y="713" width="3" height="1" fill="#c0c0c0"/>
<rect x="161" y="714" width="3" height="1" fill="#c0c0c0"/>
<rect x="169" y="714" width="3" height="1" fill="#c0c0c0"/>
<rect x="177" y="714" width="3" height="3" fill="#c0c0c0"/>
<rect x="185" y="714" width="3" height="4" fill="#c0c0c0"/>
<rect x="193" y="714" width="3" height="7" fill="#c0c0c0"/>
<rect x="201" y="714" width="3" height="8" fill="#c0c0c0"/>
<rect x="209" y="714" width="3" height="8" fill="#c0c0c0"/>
<rect x="217" y="714" width="3" height="10" fill="#c0c0c0"/>
<rect x="225" y="714" width="3" height="10" fill="#c0c0c0"/>
<rect x="233" y="714" width="3" height="8" fill="#c0c0c0"/>
<rect x="241" y="714" width="3" height="6" fill="#c0c0c0"/>
<rect x="249" y="714" width="3" height="3" fill="#c0c0c0"/>
<rect x="257" y="714" width="3" height="2" fill="#c0c0c0"/>
<rect x="265" y="714" width="3" height="6" fill="#c0c0c0"/>
<rect x="273" y="714" width="3" height="6" fill="#c0c0c0"/>
<rect x="281" y="714" width="3" height="8" fill="#c0c0c0"/>
<rect x="289" y="714" width="3" height="4" fill="#c0c0c0"/>
<rect x="297" y="714" width="3" height="4" fill="#c0c0c0"/>
<rect x="305" y="714" width="3" height="2" fill="#c0c0c0"/>
<rect x="313" y="714" width="3" height="2" fill="#c0c0c0"/>
<rect x="321" y="714" width="3" height="2" fill="#c0c0c0"/>
<rect x="329" y="714" width="3" height="2" fill="#c0c0c0"/>
<rect x="337" y="714" width="3" height="3" fill="#c0c0c0"/>
<rect x="345" y="714" width="3" height="6" fill="#c0c0c0"/>
<rect x="353" y="714" width="3" height="8" fill="#c0c0c0"/>
<rect x="361" y="714" width="3" height="8" fill="#c0c0c0"/>
<rect x="369" y="714" width="3" height="12" fill="#c0c0c0"/>
<rect x="377" y="714" width="3" height="14" fill="#c0c0c0"/>
<rect x="385" y="714" width="3" height="14" fill="#c0c0c0"/>
<rect x="393" y="714" width="3" height="14" fill="#c0c0c0"/>
<rect x="401" y="714" width="3" height="15" fill="#c0c0c0"/>
<rect x="409" y="714" width="3" height="15" fill="#c0c0c0"/>
<rect x="417" y="714" width="3" height="11" fill="#c0c0c0"/>
<rect x="425" y="714" width="3" height="7" fill="#c0c0c0"/>
<rect x="433" y="714" width="3" height="5" fill="#c0c0c0"/>
<rect x="441" y="714" width="3" height="4" fill="#c0c0c0"/>
<rect x="449" y="711" width="3" height="3" fill="#c0c0c0"/>
<rect x="457" y="709" width="3" height="5" fill="#c0c0c0"/>
<rect x="465" y="707" width="3" height="7" fill="#c0c0c0"/>
<rect x="473" y="706" width="3" height="8" fill="#c0c0c0"/>
<rect x="481" y="707" width="3" height="7" fill="#c0c0c0"/>
<rect x="489" y="708" width="3" height="6" fill="#c0c0c0"/>
<rect x="497" y="708" width="3" height="6" fill="#c0c0c0"/>
<rect x="505" y="710" width="3" height="4" fill="#c0c0c0"/>
<rect x="513" y="713" width="3" height="1" fill="#c0c0c0"/>
<rect x="521" y="714" width="3" height="2" fill="#c0c0c0"/>
<rect x="529" y="714" width="3" height="4" fill="#c0c0c0"/>
<rect x="537" y="714" width="3" height="6" fill="#c0c0c0"/>
</g>
<g clip-path="url(#c5)">
<polyline points="2.5,704.8 10.5,704.35 18.5,703.9 26.5,701.95 34.5,700 42.5,698.55 50.5,697.1 58.5,695.65 66.5,694.2 74.5,693.86 82.5,693.53 90.5,694.32 98.5,695.24 106.5,696.37 114.5,697.5 122.5,699.01 130.5,700.51 138.5,702.46 146.5,704.46 154.5,706.16 162.5,707.85 170.5,709.5 178.5,710.5 186.5,711.5 194.5,712.37 202.5,713.79 210.5,715.54 218.5,717.4 226.5,719.32 234.5,721.09 242.5,721 250.5,720.91 258.5,720.81 266.5,720.8 274.5,720.8 282.5,720.8 290.5,719.68 298.5,719.56 306.5,718.5 314.5,717.5 322.5,717.5 330.5,717.5 338.5,717.61 346.5,717.76 354.5,717.91 362.5,718.55 370.5,720 378.5,722.72 386.5,723.6 394.5,724.46 402.5,725.29 410.5,726 418.5,726.5 426.5,726.5 434.5,726.5 442.5,725.45 450.5,724.05 458.5,722.03 466.5,720.01 474.5,717.67 482.5,715.42 490.5,713.48 498.5,711.53 506.5,710.26 514.5,710.15 522.5,710.04 530.5,710.53 538.5,712.7" fill="none" stroke="#ff0000" stroke-width="1" shape-rendering="crispEdges" />
</g>
<text x="6" y="417" fill="#fff" font-family="Liberation Sans, sans-serif" font-size="9.7" textLength="73" lengthAdjust="spacingAndGlyphs" stroke="#fff" stroke-width="0.1">CCI(14) -92.9052</text>
<text x="5.6" y="493.3" fill="#fff" font-family="Liberation Sans, sans-serif" font-size="9.7" textLength="68.6" lengthAdjust="spacingAndGlyphs" stroke="#fff" stroke-width="0.1">RSI(14) 46.1623</text>
<text x="5.6" y="562.4" fill="#fff" font-family="Liberation Sans, sans-serif" font-size="9.7" textLength="113.3" lengthAdjust="spacingAndGlyphs" stroke="#fff" stroke-width="0.1">Sto(5,3,3) 23.7938 16.6420</text>
<text x="6.2" y="636.2" fill="#fff" font-family="Liberation Sans, sans-serif" font-size="9.7" textLength="71.5" lengthAdjust="spacingAndGlyphs" stroke="#fff" stroke-width="0.1">ATR(14) 18.7871</text>
<text x="6.2" y="697.3" fill="#fff" font-family="Liberation Sans, sans-serif" font-size="9.7" textLength="121" lengthAdjust="spacingAndGlyphs" stroke="#fff" stroke-width="0.1">MACD(12,26,9) 2.999 1.206</text>
<text x="700.3" y="415" fill="#fff" font-family="Liberation Sans, sans-serif" font-size="9.7" textLength="37.74" lengthAdjust="spacingAndGlyphs" stroke="#fff" stroke-width="0.1">238.0328</text>
<text x="700.3" y="431.8" fill="#fff" font-family="Liberation Sans, sans-serif" font-size="9.7" textLength="15.1" lengthAdjust="spacingAndGlyphs" stroke="#fff" stroke-width="0.1">100</text>
<text x="700.3" y="448.8" fill="#fff" font-family="Liberation Sans, sans-serif" font-size="9.7" textLength="17.61" lengthAdjust="spacingAndGlyphs" stroke="#fff" stroke-width="0.1">0.00</text>
<text x="700.3" y="465.7" fill="#fff" font-family="Liberation Sans, sans-serif" font-size="9.7" textLength="18.11" lengthAdjust="spacingAndGlyphs" stroke="#fff" stroke-width="0.1">-100</text>
<text x="700.3" y="475.5" fill="#fff" font-family="Liberation Sans, sans-serif" font-size="9.7" textLength="40.75" lengthAdjust="spacingAndGlyphs" stroke="#fff" stroke-width="0.1">-196.0045</text>
<text x="700.3" y="490.9" fill="#fff" font-family="Liberation Sans, sans-serif" font-size="9.7" textLength="15.1" lengthAdjust="spacingAndGlyphs" stroke="#fff" stroke-width="0.1">100</text>
<text x="700.3" y="504.8" fill="#fff" font-family="Liberation Sans, sans-serif" font-size="9.7" textLength="10.06" lengthAdjust="spacingAndGlyphs" stroke="#fff" stroke-width="0.1">70</text>
<text x="700.3" y="530.9" fill="#fff" font-family="Liberation Sans, sans-serif" font-size="9.7" textLength="10.06" lengthAdjust="spacingAndGlyphs" stroke="#fff" stroke-width="0.1">30</text>
<text x="700.3" y="543.7" fill="#fff" font-family="Liberation Sans, sans-serif" font-size="9.7" textLength="5.03" lengthAdjust="spacingAndGlyphs" stroke="#fff" stroke-width="0.1">0</text>
<text x="700.3" y="560" fill="#fff" font-family="Liberation Sans, sans-serif" font-size="9.7" textLength="15.1" lengthAdjust="spacingAndGlyphs" stroke="#fff" stroke-width="0.1">100</text>
<text x="700.3" y="567.8" fill="#fff" font-family="Liberation Sans, sans-serif" font-size="9.7" textLength="10.06" lengthAdjust="spacingAndGlyphs" stroke="#fff" stroke-width="0.1">80</text>
<text x="700.3" y="609.6" fill="#fff" font-family="Liberation Sans, sans-serif" font-size="9.7" textLength="10.06" lengthAdjust="spacingAndGlyphs" stroke="#fff" stroke-width="0.1">20</text>
<text x="700.3" y="617.9" fill="#fff" font-family="Liberation Sans, sans-serif" font-size="9.7" textLength="5.03" lengthAdjust="spacingAndGlyphs" stroke="#fff" stroke-width="0.1">0</text>
<text x="700.3" y="633.8" fill="#fff" font-family="Liberation Sans, sans-serif" font-size="9.7" textLength="32.71" lengthAdjust="spacingAndGlyphs" stroke="#fff" stroke-width="0.1">24.6885</text>
<text x="700.3" y="679" fill="#fff" font-family="Liberation Sans, sans-serif" font-size="9.7" textLength="32.71" lengthAdjust="spacingAndGlyphs" stroke="#fff" stroke-width="0.1">12.6851</text>
<text x="700.3" y="695.1" fill="#fff" font-family="Liberation Sans, sans-serif" font-size="9.7" textLength="27.67" lengthAdjust="spacingAndGlyphs" stroke="#fff" stroke-width="0.1">17.045</text>
<text x="700.3" y="718" fill="#fff" font-family="Liberation Sans, sans-serif" font-size="9.7" textLength="17.61" lengthAdjust="spacingAndGlyphs" stroke="#fff" stroke-width="0.1">0.00</text>
<text x="700.3" y="728" fill="#fff" font-family="Liberation Sans, sans-serif" font-size="9.7" textLength="30.69" lengthAdjust="spacingAndGlyphs" stroke="#fff" stroke-width="0.1">-10.891</text>
<g shape-rendering="crispEdges" stroke="#fff">
<line x1="697" y1="406.5" x2="699" y2="406.5"/>
<line x1="697" y1="445.5" x2="699" y2="445.5"/>
<line x1="697" y1="477.5" x2="699" y2="477.5"/>
<line x1="697" y1="481.5" x2="699" y2="481.5"/>
<line x1="697" y1="546.5" x2="699" y2="546.5"/>
<line x1="697" y1="550.5" x2="699" y2="550.5"/>
<line x1="697" y1="620.5" x2="699" y2="620.5"/>
<line x1="697" y1="624.5" x2="699" y2="624.5"/>
<line x1="697" y1="681.5" x2="699" y2="681.5"/>
<line x1="697" y1="685.5" x2="699" y2="685.5"/>
<line x1="697" y1="714.5" x2="699" y2="714.5"/>
<line x1="697" y1="731.5" x2="699" y2="731.5"/>
</g>
<g shape-rendering="crispEdges" stroke="#fff">
<line x1="2.5" y1="733" x2="2.5" y2="736"/>
<line x1="66.5" y1="733" x2="66.5" y2="736"/>
<line x1="130.5" y1="733" x2="130.5" y2="736"/>
<line x1="194.5" y1="733" x2="194.5" y2="736"/>
<line x1="258.5" y1="733" x2="258.5" y2="736"/>
<line x1="322.5" y1="733" x2="322.5" y2="736"/>
<line x1="386.5" y1="733" x2="386.5" y2="736"/>
<line x1="450.5" y1="733" x2="450.5" y2="736"/>
<line x1="514.5" y1="733" x2="514.5" y2="736"/>
</g>
<text x="1.4" y="745" fill="#fff" font-family="Liberation Sans, sans-serif" font-size="9.7" textLength="54" lengthAdjust="spacingAndGlyphs" stroke="#fff" stroke-width="0.1">19 Nov 2025</text>
<text x="65.4" y="745" fill="#fff" font-family="Liberation Sans, sans-serif" font-size="9.7" textLength="57" lengthAdjust="spacingAndGlyphs" stroke="#fff" stroke-width="0.1">19 Nov 16:00</text>
<text x="129.4" y="745" fill="#fff" font-family="Liberation Sans, sans-serif" font-size="9.7" textLength="57" lengthAdjust="spacingAndGlyphs" stroke="#fff" stroke-width="0.1">20 Nov 01:00</text>
<text x="193.4" y="745" fill="#fff" font-family="Liberation Sans, sans-serif" font-size="9.7" textLength="57" lengthAdjust="spacingAndGlyphs" stroke="#fff" stroke-width="0.1">20 Nov 09:00</text>
<text x="257.4" y="745" fill="#fff" font-family="Liberation Sans, sans-serif" font-size="9.7" textLength="57" lengthAdjust="spacingAndGlyphs" stroke="#fff" stroke-width="0.1">20 Nov 17:00</text>
<text x="321.4" y="745" fill="#fff" font-family="Liberation Sans, sans-serif" font-size="9.7" textLength="57" lengthAdjust="spacingAndGlyphs" stroke="#fff" stroke-width="0.1">21 Nov 02:00</text>
<text x="385.4" y="745" fill="#fff" font-family="Liberation Sans, sans-serif" font-size="9.7" textLength="57" lengthAdjust="spacingAndGlyphs" stroke="#fff" stroke-width="0.1">21 Nov 10:00</text>
<text x="449.4" y="745" fill="#fff" font-family="Liberation Sans, sans-serif" font-size="9.7" textLength="57" lengthAdjust="spacingAndGlyphs" stroke="#fff" stroke-width="0.1">21 Nov 18:00</text>
<text x="513.4" y="745" fill="#fff" font-family="Liberation Sans, sans-serif" font-size="9.7" textLength="57" lengthAdjust="spacingAndGlyphs" stroke="#fff" stroke-width="0.1">24 Nov 03:00</text>
</svg>
</body></html>
